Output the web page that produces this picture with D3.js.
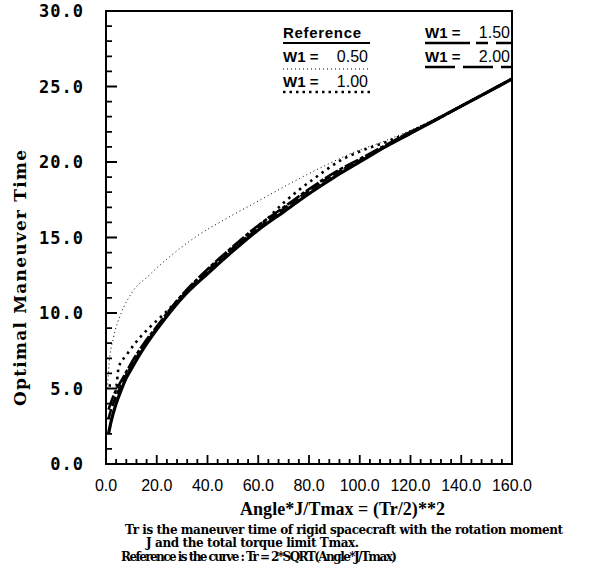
<!DOCTYPE html>
<html>
<head>
<meta charset="utf-8">
<script src="https://cdn.jsdelivr.net/npm/d3@7"></script>
<style>
  body { margin: 0; background: #fff; }
  svg { display: block; }
</style>
</head>
<body>
<div id="chart"></div>
<script>
// values
const xRef = [1, 2, 4, 6, 8, 10, 15, 20, 25, 30, 40, 50, 60, 70, 80, 90, 100, 110, 120, 130, 140, 150, 160];
const tRef = [2.0, 2.8, 4.0, 4.9, 5.7, 6.3, 7.7, 8.9, 10.0, 11.0, 12.6, 14.1, 15.5, 16.7, 17.9, 19.0, 20.0, 21.0, 21.9, 22.8, 23.7, 24.6, 25.5];
const tW15 = [3.6, 4.1, 4.9, 5.5, 6.1, 6.7, 8.0, 9.1, 10.2, 11.2, 12.9, 14.4, 15.8, 17.0, 18.2, 19.3, 20.2, 21.1, 22.0, 22.8, 23.7, 24.6, 25.5];
const tW20 = [3.0, 3.6, 4.5, 5.2, 5.9, 6.5, 7.8, 9.0, 10.1, 11.1, 12.8, 14.3, 15.6, 16.9, 18.1, 19.2, 20.1, 21.0, 21.9, 22.8, 23.7, 24.6, 25.5];

const xW05 = [0.6, 1.2, 3, 6, 10, 17, 23.5, 35, 49, 62, 75, 88, 97, 110, 120, 130, 140, 150, 160];
const tW05 = [5.0, 6.6, 8.4, 10.0, 11.3, 12.5, 13.5, 15.0, 16.4, 17.6, 18.8, 19.9, 20.6, 21.4, 22.1, 22.9, 23.7, 24.6, 25.5];

const xW10 = [1, 4, 5, 8, 11.5, 14, 17.5, 22, 28, 35, 45, 55, 62, 70, 82, 93.5, 100, 110, 120, 130, 140, 150, 160];
const tW10 = [5.2, 5.2, 6.4, 7.2, 8.0, 8.5, 9.1, 9.8, 10.8, 12.0, 13.5, 15.0, 16.0, 17.3, 18.9, 20.2, 20.7, 21.3, 22.0, 22.8, 23.7, 24.6, 25.5];

const xTicks = [0, 20, 40, 60, 80, 100, 120, 140, 160];
const yTicks = [0, 5, 10, 15, 20, 25, 30];

const width = 591, height = 573;
const plotL = 106, plotR = 512, plotT = 11, plotB = 464;

const svg = d3.select("#chart").append("svg")
    .attr("width", width)
    .attr("height", height);

const x = d3.scaleLinear().domain([0, 160]).range([plotL, plotR]);
const y = d3.scaleLinear().domain([0, 30]).range([plotB, plotT]);

svg.append("g").selectAll("text")
    .data(xTicks)
    .join("text")
    .attr("x", d => x(d))
    .attr("y", 491)
    .attr("text-anchor", "middle")
    .attr("font-family", "'Liberation Sans', Arial, sans-serif")
    .attr("font-size", 16)
    .text(d => d.toFixed(1));

svg.append("g").selectAll("text")
    .data(yTicks)
    .join("text")
    .attr("x", 84)
    .attr("y", d => y(d) + 6)
    .attr("text-anchor", "end")
    .attr("font-family", "'DejaVu Sans Mono', monospace")
    .attr("font-weight", "bold")
    .attr("font-size", 17)
    .attr("letter-spacing", 1)
    .text(d => d.toFixed(1));

const line = d3.line()
    .x(d => x(d[0]))
    .y(d => y(d[1]))
    .curve(d3.curveMonotoneX);

const series = [
    { xs: xW05, ts: tW05, w: 1, dash: "1,3" },
    { xs: xW10, ts: tW10, w: 2.6, dash: "2.5,4.5" },
    { xs: xRef, ts: tW20, w: 2.6, dash: "10,3" },
    { xs: xRef, ts: tW15, w: 2.6, dash: "15,2,4,2" },
    { xs: xRef, ts: tRef, w: 3.2, dash: null }
];

series.forEach(s => {
    svg.append("path")
        .datum(s.xs.map((v, i) => [v, s.ts[i]]))
        .attr("fill", "none")
        .attr("stroke", "#000")
        .attr("stroke-width", s.w)
        .attr("stroke-dasharray", s.dash)
        .attr("d", line);
});

// frame
svg.append("rect")
    .attr("x", plotL).attr("y", plotT)
    .attr("width", plotR - plotL).attr("height", plotB - plotT)
    .attr("fill", "none")
    .attr("stroke", "#000")
    .attr("stroke-width", 2);

// tick marks point inward: every 4 units on x (long at 20), every 1 unit on y (long at 5)
const xMinor = d3.range(0, 161, 4);
const yMinor = d3.range(0, 31, 1);

const tickPath = d3.path();
xMinor.forEach(d => {
    tickPath.moveTo(x(d), plotB);
    tickPath.lineTo(x(d), plotB - (d % 20 === 0 ? 9 : 5));
});
yMinor.forEach(d => {
    tickPath.moveTo(plotL, y(d));
    tickPath.lineTo(plotL + (d % 5 === 0 ? 11 : 6), y(d));
});
svg.append("path")
    .attr("d", tickPath.toString())
    .attr("fill", "none")
    .attr("stroke", "#000")
    .attr("stroke-width", 1.8);

// legend
const legendFont = "'Liberation Sans', Arial, sans-serif";
const legend = [
    { label: "Reference", val: "", lx: 283, ly: 38, uy: 43, w: 2.2, dash: null },
    { label: "W1 =", val: "0.50", lx: 283, ly: 62, uy: 69, w: 1, dash: "1,3" },
    { label: "W1 =", val: "1.00", lx: 283, ly: 87, uy: 92, w: 2.4, dash: "2.5,4" },
    { label: "W1 =", val: "1.50", lx: 425, ly: 38, uy: 43, w: 2.4, dash: "45,6,12,8" },
    { label: "W1 =", val: "2.00", lx: 425, ly: 62, uy: 67, w: 2.4, dash: "30,8" }
];
const legW = 87;

legend.forEach(l => {
    svg.append("text")
        .attr("x", l.lx).attr("y", l.ly)
        .attr("font-family", legendFont)
        .attr("font-weight", "bold")
        .attr("font-size", 15)
        .attr("textLength", l.val ? null : 78)
        .text(l.label);
    if (l.val) {
        svg.append("text")
            .attr("x", l.lx + legW - 2).attr("y", l.ly)
            .attr("text-anchor", "end")
            .attr("font-family", legendFont)
            .attr("font-size", 16)
            .text(l.val);
    }
    svg.append("line")
        .attr("x1", l.lx).attr("x2", l.lx + legW)
        .attr("y1", l.uy).attr("y2", l.uy)
        .attr("stroke", "#000")
        .attr("stroke-width", l.w)
        .attr("stroke-dasharray", l.dash);
});

// axis titles and notes
svg.append("text")
    .attr("transform", "translate(26,278) rotate(-90)")
    .attr("text-anchor", "middle")
    .attr("font-family", "'DejaVu Serif', serif")
    .attr("font-weight", "bold")
    .attr("font-size", 17)
    .attr("textLength", 256)
    .text("Optimal Maneuver Time");

svg.append("text")
    .attr("x", 240).attr("y", 515)
    .attr("font-family", "'Liberation Serif', serif")
    .attr("font-weight", "bold")
    .attr("font-size", 18)
    .attr("textLength", 205)
    .text("Angle*J/Tmax = (Tr/2)**2");

const notes = [
    { text: "Tr is the maneuver time of rigid spacecraft with the rotation moment", x: 125, y: 534, len: 438 },
    { text: "J and the total torque limit Tmax.", x: 146, y: 547, len: 213 },
    { text: "Reference is the curve : Tr = 2*SQRT(Angle*J/Tmax)", x: 121, y: 561, len: 276 }
];
notes.forEach(n => {
    svg.append("text")
        .attr("x", n.x).attr("y", n.y)
        .attr("font-family", "'DejaVu Serif', serif")
        .attr("font-weight", "bold")
        .attr("font-size", 12)
        .attr("textLength", n.len)
        .text(n.text);
});
</script>
</body>
</html>
